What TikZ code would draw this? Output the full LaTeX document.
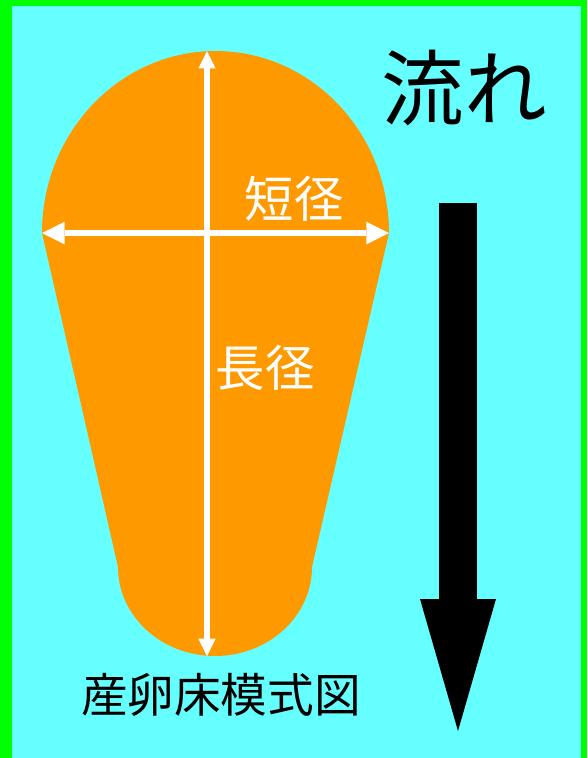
\documentclass[tikz,border=0pt]{standalone}
\usepackage{fontspec}
\newfontfamily\jpfont{Noto Sans CJK JP}
\usetikzlibrary{arrows.meta}

\definecolor{frame}{HTML}{00FF00}
\definecolor{water}{HTML}{66FFFF}
\definecolor{redd}{HTML}{FF9900}

\begin{document}
\begin{tikzpicture}[x=0.75pt,y=0.75pt,
        dimline/.style={white, line width=4pt},
        label/.style={font=\jpfont\fontsize{37pt}{40pt}\selectfont, inner sep=0pt}]
            \useasboundingbox (0,0) rectangle (587,-758);
            \fill[frame] (0,0) rectangle (587,-758);
            \fill[water] (12,-6) rectangle (581,-758);

            % nest outline
            \fill[redd] (42,-233) arc[start angle=180, end angle=0, x radius=173.5, y radius=182]
                -- (312,-567) arc[start angle=0, end angle=-180, x radius=97, y radius=89] -- cycle;

            \coordinate (top) at (207,-51);
            \coordinate (bottom) at (207,-656);
            \coordinate (left) at (42,-233);
            \coordinate (right) at (389,-233);

            \draw[dimline, {Triangle[length=13pt,width=13pt,line width=0pt]}-{Triangle[length=13pt,width=13pt,line width=0pt]}] (top) -- (bottom);
            \draw[dimline, line width=5pt, {Triangle[length=17pt,width=17pt,line width=0pt]}-{Triangle[length=17pt,width=17pt,line width=0pt]}] (left) -- (right);

            \node[label, white] (short) at (294,-199) {短径};
            \node[label, white] (long) at (265,-368) {長径};
            \node[label, font=\jpfont\fontsize{62pt}{66pt}\selectfont] (flow) at (464,-88) {流れ};
            \node[label, font=\jpfont\fontsize{35pt}{38pt}\selectfont] (title) at (221,-695) {産卵床模式図};

            % flow arrow
            \coordinate (fstart) at (458,-203);
            \coordinate (fend) at (458,-731);
            \draw[line width=28.5pt, -{Triangle[length=99pt,width=57pt,line width=0pt]}] (fstart) -- (fend);
        \end{tikzpicture}
\end{document}
